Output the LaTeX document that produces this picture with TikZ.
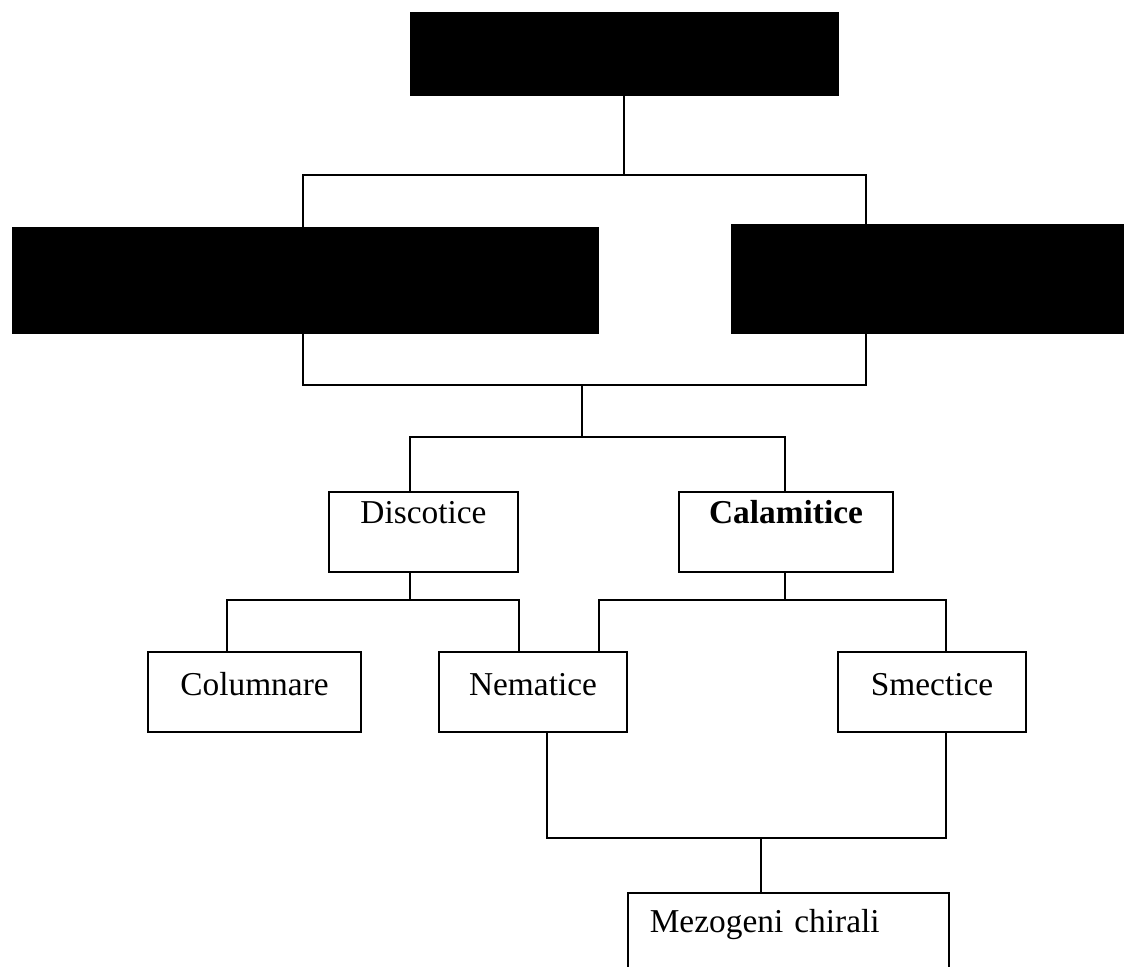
\documentclass[tikz,border=0pt]{standalone}
\usepackage{fontspec}
\setmainfont{Liberation Serif}

\tikzset{
  box/.style={draw, line width=0.9pt, fill=white, inner sep=0pt, text height=13pt,
    font=\fontsize{19}{22}\selectfont},
  blackbox/.style={draw, fill=black, inner sep=0pt},
  wire/.style={line width=0.9pt},
  upper/.style={text depth=23pt},
  lower/.style={text depth=9pt},
}

\begin{document}
\begin{tikzpicture}[x=0.02cm, y=-0.02cm]
\useasboundingbox (0,0) rectangle (1124,966);
\clip (0,0) rectangle (1124,966);

% blacked out boxes
\node[blackbox, minimum width=8.56cm, minimum height=1.66cm] (top) at (624,53.5) {};
\node[blackbox, minimum width=11.72cm, minimum height=2.12cm] (left) at (305,280) {};
\node[blackbox, minimum width=7.98cm, minimum height=2.18cm] (right) at (930.5,278.5) {};

% classes
\node[box, upper, minimum width=3.78cm, minimum height=1.6cm] (disc) at (423.5,532) {Discotice};
\node[box, upper, minimum width=4.28cm, minimum height=1.6cm] (calam) at (786,532) {\textbf{Calamitice}};
\node[box, lower, minimum width=4.26cm, minimum height=1.6cm] (colum) at (254.5,692) {Columnare};
\node[box, lower, minimum width=3.76cm, minimum height=1.6cm] (nemat) at (533,692) {Nematice};
\node[box, lower, minimum width=3.76cm, minimum height=1.6cm] (smect) at (932,692) {Smectice};
\node[box, anchor=north west, text width=5.54cm, align=left, inner xsep=0.44cm, inner ysep=0.34cm,
  text depth=30pt] (chiral) at (627,892) {Mezogeni chirali};

% forks
\coordinate (t1) at (624,175);
\coordinate (bl) at (303,175);
\coordinate (br) at (866,385);
\coordinate (f1) at (582,385);
\coordinate (f2) at (582,437);
\coordinate (d1) at (410,437);
\coordinate (c1) at (785,437);
\coordinate (d2) at (410,600);
\coordinate (d2l) at (227,600);
\coordinate (d2r) at (519,600);
\coordinate (c2) at (785,600);
\coordinate (c2l) at (599,600);
\coordinate (c2r) at (946,600);
\coordinate (n3) at (547,838);
\coordinate (s3) at (946,838);
\coordinate (m3) at (761,838);

\draw[wire] (top.south) -- (t1);
\draw[wire] (bl) rectangle (br);
\draw[wire] (f1) -- (f2);
\draw[wire] (d1 |- disc.north) -- (d1) -- (c1) -- (c1 |- calam.north);
\draw[wire] (d2 |- disc.south) -- (d2);
\draw[wire] (d2l |- colum.north) -- (d2l) -- (d2r) -- (d2r |- nemat.north);
\draw[wire] (c2 |- calam.south) -- (c2);
\draw[wire] (c2l |- nemat.north) -- (c2l) -- (c2r) -- (c2r |- smect.north);
\draw[wire] (n3 |- nemat.south) -- (n3) -- (s3) -- (s3 |- smect.south);
\draw[wire] (m3) -- (m3 |- chiral.north);
\end{tikzpicture}
\end{document}
